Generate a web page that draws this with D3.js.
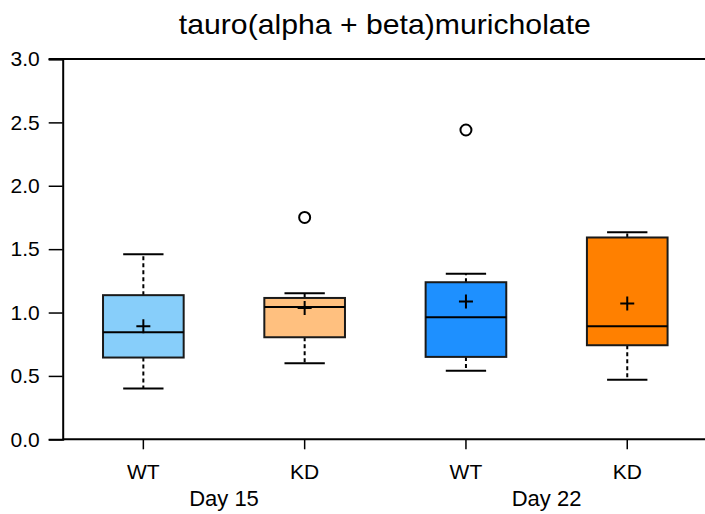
<!DOCTYPE html>
<html>
<head>
<meta charset="utf-8">
<script src="https://cdn.jsdelivr.net/npm/d3@7"></script>
<style>
  html, body { margin: 0; padding: 0; background: #fff; }
  svg text { font-family: "Liberation Sans", Arial, Helvetica, sans-serif; fill: #000; }
</style>
</head>
<body>
<svg id="chart" width="705" height="514"></svg>
<script>
// ---- data ----
const groups = ["WT", "KD", "WT", "KD"];
const days = ["Day 15", "Day 22"];
const whiskerLow  = [0.40, 0.60, 0.54, 0.47];
const q1          = [0.645, 0.805, 0.65, 0.742];
const median      = [0.845, 1.044, 0.963, 0.892];
const q3          = [1.137, 1.115, 1.239, 1.592];
const whiskerHigh = [1.46, 1.152, 1.305, 1.634];
const means       = [0.892, 1.036, 1.087, 1.071];
const outliers    = [[], [1.75], [2.44], []];
const colors      = ["#87CEFA", "#FFC07F", "#1E90FF", "#FF8000"];
const yTicks      = [0, 0.5, 1.0, 1.5, 2.0, 2.5, 3.0];
const title = "tauro(alpha + beta)muricholate";

(function () {
const svg = d3.select("#chart");
const mLeft = 62.7, mTop = 59, mBottom = 439.3, mRight = 705;
const ids = groups.map((g, i) => i);
const FONT = '"Liberation Sans", Arial, sans-serif';

const x = d3.scaleBand().domain(ids).range([mLeft, mLeft + 4 * 161.3]).padding(0);
const y = d3.scaleLinear().domain([0, 3]).range([mBottom, mTop]);
const bw = x.bandwidth() * 0.5;
const cx = i => x(i) + x.bandwidth() / 2;

// title
svg.append("text").attr("x", (mLeft + mRight) / 2 + 1).attr("y", 34)
  .attr("text-anchor", "middle").attr("font-size", 28)
  .attr("textLength", 412).attr("lengthAdjust", "spacingAndGlyphs").text(title);

// frame: top line
svg.append("line").attr("x1", mLeft - 14).attr("x2", mRight).attr("y1", mTop).attr("y2", mTop)
  .attr("stroke", "#000").attr("stroke-width", 2);

// y axis
const yAxis = svg.append("g").attr("transform", `translate(${mLeft},0)`)
  .call(d3.axisLeft(y).tickValues(yTicks).tickFormat(d3.format(".1f")).tickSize(14).tickPadding(9));
yAxis.select(".domain").attr("stroke-width", 2);
yAxis.selectAll(".tick line").attr("stroke-width", 1.5);
yAxis.selectAll("text").attr("font-size", 21).attr("font-family", FONT);

// x axis
const xAxis = svg.append("g").attr("transform", `translate(0,${mBottom})`)
  .call(d3.axisBottom(x).tickFormat(i => groups[i]).tickSize(10).tickPadding(15));
xAxis.select(".domain").attr("d", `M${mLeft},0H${mRight}`).attr("stroke-width", 2);
xAxis.selectAll(".tick line").attr("stroke-width", 1.5);
xAxis.selectAll("text").attr("font-size", 21).attr("font-family", FONT);

// day labels
days.forEach((d, k) => {
  svg.append("text").attr("x", (cx(2 * k) + cx(2 * k + 1)) / 2).attr("y", 506)
    .attr("text-anchor", "middle").attr("font-size", 22).text(d);
});

// boxes
const g = svg.append("g");
ids.forEach(i => {
  const c = cx(i);
  g.append("line").attr("x1", c).attr("x2", c).attr("y1", y(q3[i])).attr("y2", y(whiskerHigh[i]))
    .attr("stroke", "#000").attr("stroke-width", 2).attr("stroke-dasharray", "4,3");
  g.append("line").attr("x1", c).attr("x2", c).attr("y1", y(q1[i])).attr("y2", y(whiskerLow[i]))
    .attr("stroke", "#000").attr("stroke-width", 2).attr("stroke-dasharray", "4,3");
  [whiskerHigh[i], whiskerLow[i]].forEach(v => {
    g.append("line").attr("x1", c - bw / 4).attr("x2", c + bw / 4).attr("y1", y(v)).attr("y2", y(v))
      .attr("stroke", "#000").attr("stroke-width", 2);
  });
  g.append("rect").attr("x", c - bw / 2).attr("width", bw)
    .attr("y", y(q3[i])).attr("height", y(q1[i]) - y(q3[i]))
    .attr("fill", colors[i]).attr("stroke", "#1a1a1a").attr("stroke-width", 2);
  g.append("line").attr("x1", c - bw / 2).attr("x2", c + bw / 2).attr("y1", y(median[i])).attr("y2", y(median[i]))
    .attr("stroke", "#000").attr("stroke-width", 2);
  const m = y(means[i]);
  g.append("path").attr("d", `M${c - 7},${m}H${c + 7}M${c},${m - 7}V${m + 7}`)
    .attr("stroke", "#000").attr("stroke-width", 2);
  outliers[i].forEach(v => {
    g.append("circle").attr("cx", c).attr("cy", y(v)).attr("r", 5.5)
      .attr("fill", "none").attr("stroke", "#000").attr("stroke-width", 2);
  });
});
})();
</script>
</body>
</html>
